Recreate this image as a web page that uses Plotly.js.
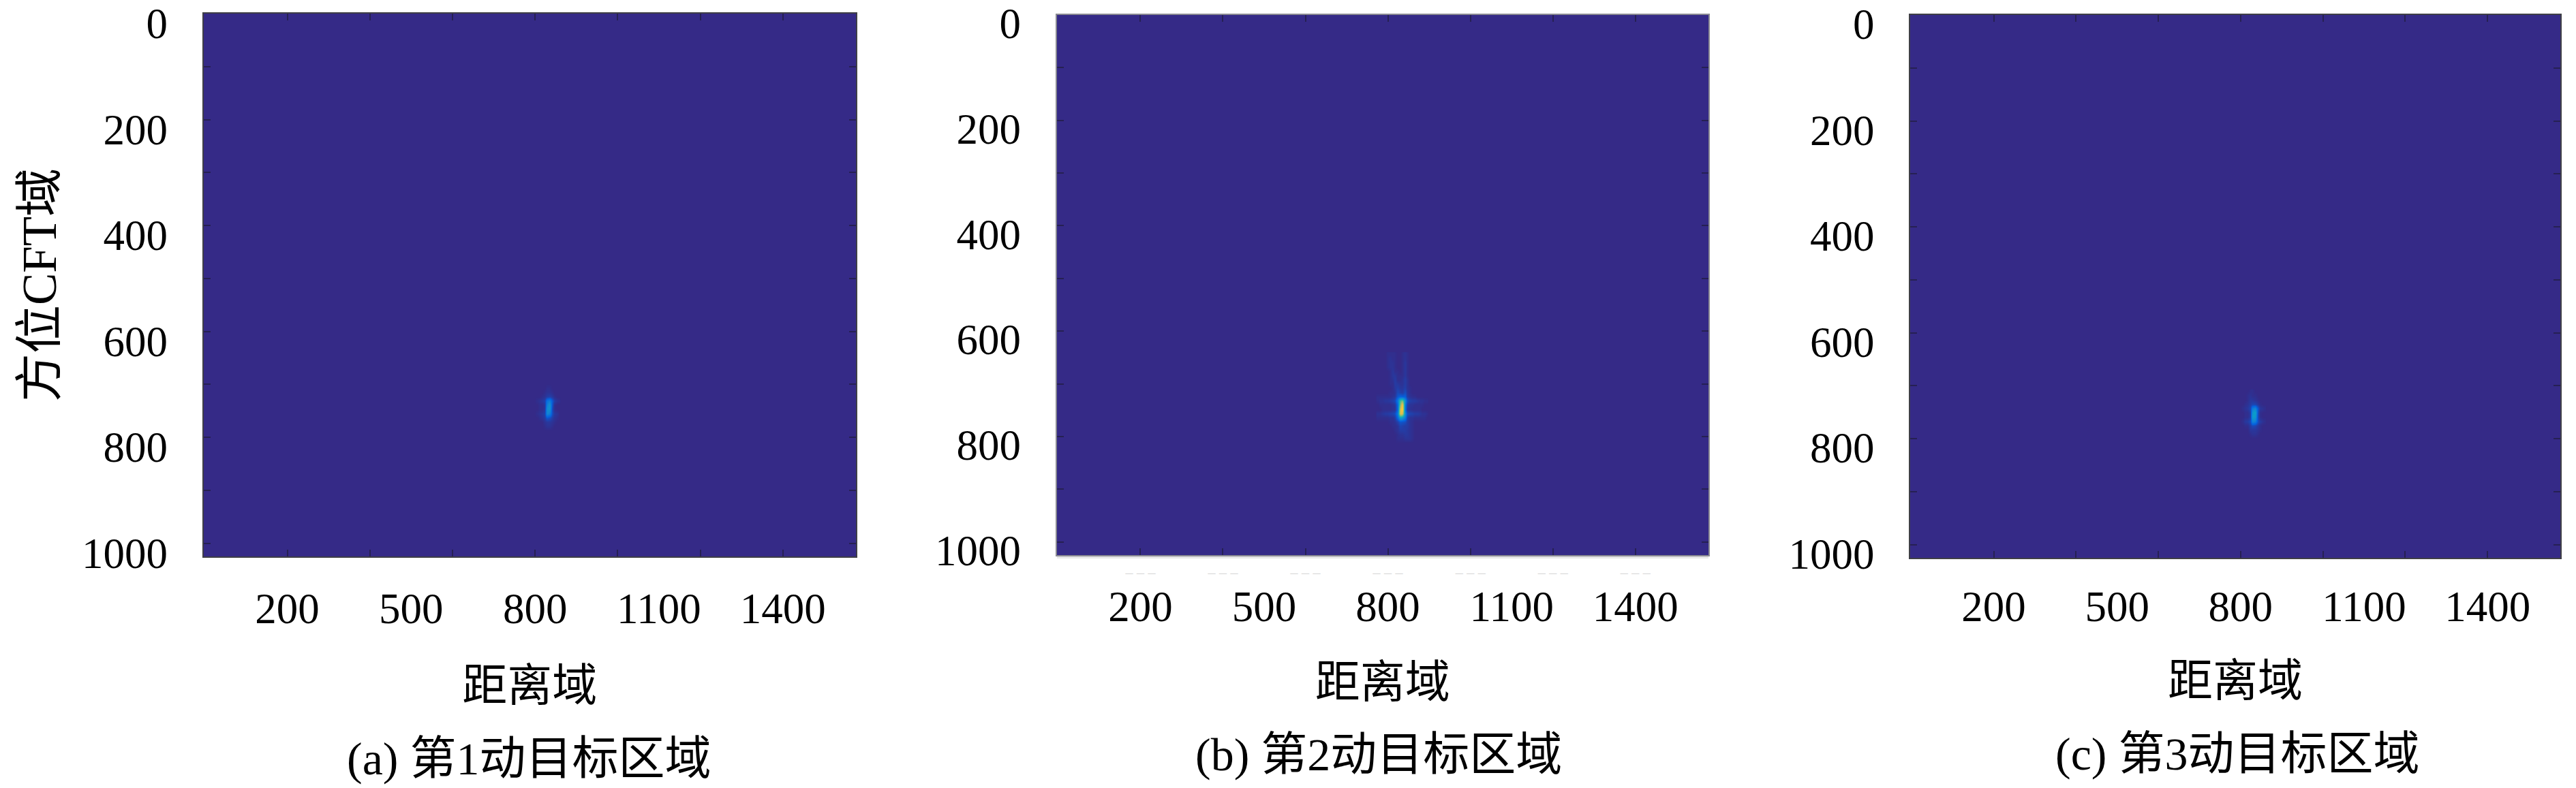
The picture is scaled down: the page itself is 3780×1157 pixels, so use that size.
<!DOCTYPE html>
<html>
<head>
<meta charset="utf-8">
<script src="https://cdn.plot.ly/plotly-3.0.1.min.js"></script>
<style>html,body{margin:0;padding:0;background:#fff}#g{width:3780px;height:1157px}</style>
</head>
<body>
<div id="g"></div>
<script>
// ---- data ----
const captions = ['(a) 第1动目标区域', '(b) 第2动目标区域', '(c) 第3动目标区域'];
const xTitle = '距离域';
const yTitle = '方位CFT域';
const xLabelVals = [200, 500, 800, 1100, 1400];
const xTickVals = [200, 400, 600, 800, 1000, 1200, 1400];
const yTickVals = [0, 100, 200, 300, 400, 500, 600, 700, 800, 900, 1000];
const yTickText = ['0', '', '200', '', '400', '', '600', '', '800', '', '1000'];
const xExtent = [-3, 1577];
const yExtent = [0, 1025];
const background = [[0]];

const colsA = [805, 811, 817, 823, 829, 835, 841, 847, 853, 859];
const rowsA = [699, 707, 715, 723, 731, 739, 747, 755, 763, 771, 779, 787];
const valsA = [
  [0, 0, 0, 0, 0, 0, 0, 0, 0, 0],
  [0, 0, 0, 0, 1, 1, 0, 0, 0, 0],
  [0, 0, 0, 1, 2, 2, 1, 0, 0, 0],
  [0, 0, 1, 2, 4, 5, 3, 1, 0, 0],
  [1, 2, 3, 5, 18, 22, 10, 4, 2, 1],
  [0, 1, 1, 3, 22, 30, 8, 1, 0, 0],
  [0, 1, 1, 3, 27, 30, 6, 1, 0, 0],
  [1, 2, 3, 5, 26, 22, 7, 3, 2, 0],
  [0, 1, 2, 4, 10, 8, 4, 2, 1, 0],
  [0, 0, 0, 2, 3, 3, 2, 1, 0, 0],
  [0, 0, 0, 1, 2, 2, 1, 0, 0, 0],
  [0, 0, 0, 0, 0, 0, 0, 0, 0, 0]
];

const colsB = [775, 781, 787, 793, 799, 805, 811, 817, 823, 829, 835, 841, 847, 853, 859, 865, 871, 877, 883, 889, 895];
const rowsB = [644, 652, 660, 668, 676, 684, 692, 700, 708, 716, 724, 732, 740, 748, 756, 764, 772, 780, 788, 796, 804, 812];
const valsB = [
  [0, 0, 0, 0, 1, 1, 1, 1, 0, 0, 1, 2, 1, 0, 0, 0, 0, 0, 0, 0, 0],
  [0, 0, 0, 0, 1, 2, 1, 1, 0, 0, 1, 2, 1, 0, 0, 0, 0, 0, 0, 0, 0],
  [0, 0, 0, 0, 1, 2, 2, 1, 0, 0, 1, 3, 1, 0, 0, 0, 0, 0, 0, 0, 0],
  [0, 0, 0, 0, 1, 2, 2, 1, 0, 0, 1, 3, 1, 0, 0, 0, 0, 0, 0, 0, 0],
  [0, 0, 0, 0, 0, 1, 3, 1, 1, 0, 1, 3, 1, 0, 0, 0, 0, 0, 0, 0, 0],
  [0, 0, 0, 0, 0, 1, 3, 3, 1, 1, 1, 3, 1, 0, 0, 0, 0, 0, 0, 0, 0],
  [0, 0, 0, 0, 0, 1, 2, 4, 1, 1, 2, 4, 2, 0, 0, 0, 0, 0, 0, 0, 0],
  [0, 0, 0, 0, 0, 1, 1, 4, 3, 2, 2, 4, 2, 0, 0, 0, 0, 0, 0, 0, 0],
  [0, 0, 0, 0, 0, 0, 1, 3, 5, 3, 3, 5, 2, 1, 0, 0, 0, 0, 0, 0, 0],
  [0, 0, 0, 0, 0, 1, 1, 2, 7, 5, 4, 8, 3, 1, 0, 0, 0, 0, 0, 0, 0],
  [1, 1, 1, 1, 1, 1, 2, 3, 10, 13, 12, 12, 4, 2, 1, 1, 0, 0, 0, 0, 0],
  [1, 2, 2, 3, 3, 4, 5, 7, 20, 52, 58, 28, 9, 5, 4, 4, 3, 2, 2, 1, 1],
  [0, 1, 1, 1, 1, 1, 2, 3, 14, 62, 84, 20, 5, 2, 2, 1, 1, 1, 1, 0, 0],
  [0, 0, 1, 1, 1, 1, 2, 2, 14, 78, 88, 18, 3, 2, 1, 1, 1, 1, 0, 0, 0],
  [2, 2, 3, 4, 4, 5, 6, 8, 20, 80, 74, 26, 9, 6, 5, 4, 4, 3, 2, 2, 1],
  [1, 1, 1, 1, 1, 2, 2, 4, 14, 36, 32, 20, 5, 2, 2, 1, 1, 1, 1, 1, 0],
  [0, 0, 0, 0, 0, 1, 1, 2, 5, 10, 9, 8, 4, 2, 1, 0, 0, 0, 0, 0, 0],
  [0, 0, 0, 0, 0, 0, 1, 1, 2, 6, 5, 4, 4, 2, 1, 0, 0, 0, 0, 0, 0],
  [0, 0, 0, 0, 0, 0, 0, 1, 2, 4, 4, 4, 3, 2, 1, 0, 0, 0, 0, 0, 0],
  [0, 0, 0, 0, 0, 0, 0, 0, 1, 2, 2, 3, 3, 2, 1, 0, 0, 0, 0, 0, 0],
  [0, 0, 0, 0, 0, 0, 0, 0, 1, 1, 1, 2, 2, 2, 1, 0, 0, 0, 0, 0, 0],
  [0, 0, 0, 0, 0, 0, 0, 0, 0, 0, 0, 0, 0, 0, 0, 0, 0, 0, 0, 0, 0]
];

const colsC = [805, 811, 817, 823, 829, 835, 841, 847, 853, 859];
const rowsC = [711, 719, 727, 735, 743, 751, 759, 767, 775, 783, 791, 799];
const valsC = [
  [0, 0, 0, 1, 1, 0, 0, 0, 0, 0],
  [0, 0, 1, 2, 1, 1, 0, 0, 0, 0],
  [0, 0, 1, 3, 3, 2, 1, 0, 0, 0],
  [0, 1, 2, 4, 6, 6, 3, 1, 0, 0],
  [1, 2, 3, 6, 22, 26, 10, 3, 2, 1],
  [0, 1, 1, 4, 30, 36, 8, 1, 0, 0],
  [0, 1, 1, 4, 33, 32, 7, 1, 0, 0],
  [1, 3, 4, 7, 24, 22, 8, 4, 2, 1],
  [0, 1, 1, 4, 7, 6, 3, 1, 0, 0],
  [0, 0, 0, 3, 3, 3, 2, 1, 0, 0],
  [0, 0, 0, 1, 2, 2, 1, 0, 0, 0],
  [0, 0, 0, 0, 0, 0, 0, 0, 0, 0]
];

// ghost remnants of clipped tick labels under panel (b)
const ghostVals = [200, 400, 600, 800, 1000, 1200, 1400];
const ghostText = ['– – –', '– – –', '– – –', '– – –', '– – –', '– – –', '– – –'];

// ---- styling ----
const W = 3780, H = 1157;
const parula = [[0, '#352a87'], [0.125, '#0363e1'], [0.25, '#1485d4'], [0.375, '#06a7c6'],
  [0.5, '#38b99e'], [0.625, '#92bf73'], [0.75, '#d9ba56'], [0.875, '#fcce2e'], [1, '#f9fb0e']];
const FONT = '"Liberation Serif","Noto Sans CJK SC",serif';
const panels = [
  {l: 298.5, r: 1256, t: 20, b: 817, line: '#3f3f46', shift: -14, xs: 20, ts: 55, cap: [776, 1114], cols: colsA, rows: rowsA, vals: valsA},
  {l: 1550.5, r: 2507, t: 22, b: 815, line: '#8a8a92', shift: -12, xs: 19, ts: 53, cap: [2023, 1108], cols: colsB, rows: rowsB, vals: valsB},
  {l: 2803, r: 3757, t: 22, b: 819, line: '#3f3f46', shift: -13, xs: 15, ts: 51, cap: [3283, 1107], cols: colsC, rows: rowsC, vals: valsC}
];
const data = [], layout = {
  width: W, height: H, margin: {l: 0, r: 0, t: 0, b: 0}, paper_bgcolor: '#fff', plot_bgcolor: '#352a87',
  showlegend: false, font: {family: FONT, color: '#000'}, annotations: []
};
panels.forEach((p, i) => {
  const n = i + 1, sx = n === 1 ? '' : String(n);
  const xd = [p.l / W, p.r / W], yd = [1 - p.b / H, 1 - p.t / H];
  const xName = 'x' + sx, yName = 'y' + sx;
  const hm = {type: 'heatmap', xaxis: xName, yaxis: yName, colorscale: parula, zmin: 0, zmax: 100, showscale: false, hoverinfo: 'skip'};
  data.push(Object.assign({}, hm, {x: xExtent, y: yExtent, z: background}));
  data.push(Object.assign({}, hm, {x: p.cols, y: p.rows, z: p.vals, zsmooth: 'best'}));
  layout['xaxis' + sx] = {
    domain: xd, anchor: yName, range: xExtent, tickmode: 'array', tickvals: xLabelVals, ticktext: xLabelVals.map(String),
    ticks: '', ticklabelstandoff: p.xs, tickfont: {size: 63, family: FONT}, showgrid: false, zeroline: false,
    showline: true, linecolor: p.line, linewidth: 2, mirror: true,
    title: {text: xTitle, font: {size: 66, family: FONT}, standoff: p.ts}
  };
  layout['yaxis' + sx] = {
    domain: yd, anchor: xName, range: [yExtent[1], yExtent[0]], tickmode: 'array', tickvals: yTickVals, ticktext: yTickText,
    ticks: 'inside', ticklen: 10, tickwidth: 2, tickcolor: 'rgba(35,30,70,0.8)', ticklabelstandoff: 38, ticklabelshift: p.shift,
    ticklabeloverflow: 'allow', tickfont: {size: 63, family: FONT}, showgrid: false, zeroline: false,
    showline: true, linecolor: p.line, linewidth: 2, mirror: 'ticks'
  };
  if (i === 0) layout.yaxis.title = {text: yTitle, font: {size: 71, family: FONT}, standoff: 14};
  // tick-only overlay: the ticks run every 200, the labels every 300
  const tn = n + 3;
  data.push({type: 'scatter', mode: 'none', x: [], y: [], xaxis: 'x' + tn, yaxis: yName, hoverinfo: 'skip'});
  layout['xaxis' + tn] = {
    domain: xd, anchor: yName, overlaying: xName, range: xExtent, tickmode: 'array', tickvals: xTickVals,
    showticklabels: false, ticks: 'inside', ticklen: 10, tickwidth: 2, tickcolor: 'rgba(35,30,70,0.8)',
    showgrid: false, zeroline: false, showline: true, linecolor: p.line, linewidth: 2, mirror: 'ticks'
  };
  layout.annotations.push({
    xref: 'paper', yref: 'paper', x: p.cap[0] / W, y: 1 - p.cap[1] / H, xanchor: 'center', yanchor: 'middle',
    text: captions[i], showarrow: false, font: {size: 68, family: FONT, color: '#000'}
  });
});
// pale band and faint clipped labels under panel (b)
data.push({type: 'scatter', mode: 'none', x: [], y: [], xaxis: 'x7', yaxis: 'y2', hoverinfo: 'skip'});
layout.xaxis7 = {
  domain: [panels[1].l / W, panels[1].r / W], anchor: 'free', position: 1 - 818 / H, overlaying: 'x2', range: xExtent,
  tickmode: 'array', tickvals: ghostVals, ticktext: ghostText, ticks: '', ticklabelstandoff: 2,
  tickfont: {size: 22, family: FONT, color: '#d4d4d4'}, showgrid: false, zeroline: false,
  showline: true, linecolor: '#e6e6e6', linewidth: 3
};
Plotly.newPlot('g', data, layout, {displayModeBar: false, staticPlot: true});
</script>
</body>
</html>
